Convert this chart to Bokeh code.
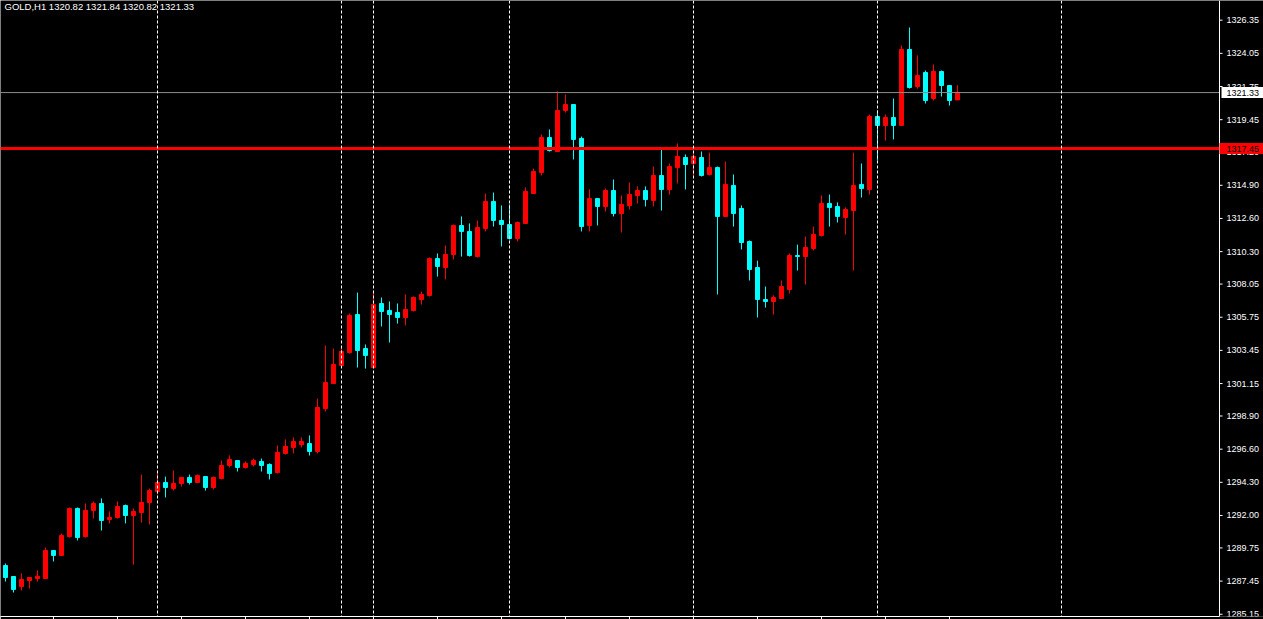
from bokeh.plotting import figure
from bokeh.models import Range1d, FixedTicker, Span, Label, ColumnDataSource
from bokeh.core.properties import value
from bokeh.embed import file_html
from bokeh.resources import INLINE

symbol = "GOLD,H1"

opens = [1288.53, 1287.77, 1287.08, 1287.49, 1287.63, 1287.63, 1289.57, 1289.23, 1290.54, 1292.49,
         1290.54, 1292.35, 1292.83, 1291.72, 1291.86, 1292.69, 1292.00, 1292.21, 1292.90, 1293.66,
         1294.29, 1293.87, 1294.22, 1294.64, 1294.29, 1294.70, 1293.94, 1294.57, 1295.47, 1295.81,
         1295.33, 1295.54, 1295.75, 1295.54, 1294.98, 1296.30, 1296.72, 1296.92, 1296.99, 1296.44,
         1299.42, 1301.15, 1302.40, 1303.30, 1305.94, 1303.58, 1302.26, 1306.70, 1306.22, 1306.08,
         1305.73, 1306.22, 1306.98, 1307.26, 1309.82, 1309.20, 1310.10, 1312.11, 1311.70, 1309.96,
         1311.90, 1313.78, 1312.46, 1312.18, 1311.21, 1312.25, 1314.33, 1315.79, 1318.21, 1317.24,
         1320.09, 1320.50, 1318.15, 1312.11, 1313.98, 1313.43, 1314.54, 1312.94, 1313.50, 1314.19,
         1314.54, 1313.85, 1315.58, 1314.61, 1316.13, 1316.83, 1316.41, 1316.83, 1315.65, 1316.13,
         1312.74, 1314.89, 1313.29, 1311.00, 1309.20, 1306.98, 1306.84, 1307.05, 1307.67, 1310.03,
         1309.96, 1310.52, 1311.42, 1313.64, 1313.43, 1312.67, 1313.15, 1314.96, 1314.61, 1319.67,
         1319.05, 1319.60, 1319.05, 1324.32, 1321.75, 1322.72, 1320.92, 1322.79, 1321.82, 1320.82]
highs = [1288.67, 1287.77, 1287.98, 1287.70, 1288.19, 1289.78, 1289.57, 1290.75, 1292.55, 1292.55,
         1292.83, 1292.97, 1293.18, 1292.28, 1292.97, 1292.76, 1292.49, 1294.84, 1293.87, 1294.98,
         1294.70, 1295.12, 1294.64, 1294.84, 1294.84, 1294.70, 1294.70, 1295.81, 1296.16, 1295.81,
         1295.75, 1295.95, 1295.95, 1295.61, 1296.85, 1297.27, 1297.41, 1297.41, 1297.55, 1300.11,
         1303.79, 1303.58, 1303.65, 1306.01, 1307.46, 1303.86, 1307.60, 1307.12, 1306.84, 1306.70,
         1307.33, 1307.19, 1307.53, 1309.89, 1310.17, 1310.72, 1312.18, 1312.74, 1312.25, 1312.46,
         1314.33, 1314.40, 1313.50, 1313.57, 1312.39, 1314.75, 1316.06, 1318.42, 1318.77, 1321.40,
         1321.20, 1320.50, 1318.28, 1314.61, 1313.98, 1314.68, 1315.30, 1314.19, 1315.09, 1314.82,
         1314.82, 1316.20, 1317.38, 1316.41, 1317.80, 1317.04, 1317.24, 1317.24, 1317.17, 1316.20,
         1316.55, 1315.65, 1313.50, 1311.07, 1309.68, 1307.88, 1307.26, 1308.30, 1310.17, 1310.79,
         1311.35, 1312.04, 1314.19, 1314.26, 1313.71, 1313.36, 1317.17, 1316.41, 1319.81, 1320.09,
         1319.81, 1320.92, 1324.59, 1325.84, 1323.90, 1322.86, 1323.28, 1322.86, 1321.82, 1321.84]
lows = [1287.42, 1286.66, 1286.80, 1286.94, 1287.42, 1287.63, 1288.81, 1289.23, 1290.47, 1290.27,
        1290.47, 1291.79, 1290.96, 1291.45, 1291.79, 1291.45, 1288.60, 1291.51, 1291.38, 1293.46,
        1293.25, 1293.73, 1294.01, 1294.15, 1294.29, 1293.73, 1293.80, 1294.50, 1295.33, 1295.05,
        1295.26, 1295.40, 1295.05, 1294.50, 1294.91, 1296.23, 1296.30, 1296.72, 1296.16, 1296.30,
        1299.21, 1301.15, 1302.40, 1303.23, 1302.26, 1302.19, 1302.26, 1305.11, 1304.00, 1305.31,
        1305.18, 1306.15, 1306.63, 1307.19, 1308.57, 1308.37, 1309.75, 1309.96, 1309.96, 1309.89,
        1311.70, 1312.04, 1310.66, 1311.14, 1311.00, 1312.25, 1314.33, 1315.58, 1317.24, 1317.24,
        1319.95, 1316.69, 1311.70, 1311.70, 1312.11, 1313.08, 1312.74, 1311.63, 1313.22, 1313.64,
        1313.43, 1313.43, 1313.15, 1314.26, 1315.02, 1314.61, 1315.58, 1315.51, 1315.58, 1307.33,
        1312.74, 1312.04, 1310.45, 1308.30, 1305.73, 1306.42, 1305.94, 1307.05, 1307.40, 1308.99,
        1308.02, 1310.38, 1311.35, 1312.04, 1312.32, 1311.49, 1308.99, 1314.05, 1314.26, 1316.62,
        1318.01, 1318.08, 1319.05, 1321.61, 1321.61, 1320.57, 1320.78, 1321.06, 1320.43, 1320.82]
closes = [1287.70, 1286.87, 1287.56, 1287.70, 1287.79, 1289.57, 1289.23, 1290.61, 1292.49, 1290.47,
          1292.35, 1292.83, 1291.65, 1291.86, 1292.62, 1292.00, 1292.28, 1292.90, 1293.73, 1294.29,
          1293.94, 1294.22, 1294.64, 1294.29, 1294.77, 1293.94, 1294.64, 1295.47, 1295.88, 1295.33,
          1295.61, 1295.81, 1295.47, 1294.91, 1296.37, 1296.79, 1297.13, 1297.13, 1296.44, 1299.49,
          1301.22, 1302.47, 1303.37, 1305.87, 1303.44, 1303.10, 1306.63, 1306.15, 1305.94, 1305.73,
          1306.29, 1307.12, 1307.33, 1309.82, 1309.27, 1310.10, 1312.11, 1311.70, 1310.03, 1311.97,
          1313.78, 1312.46, 1312.18, 1311.21, 1312.32, 1314.47, 1315.86, 1318.21, 1317.31, 1320.09,
          1320.50, 1318.08, 1312.04, 1313.98, 1313.43, 1314.54, 1312.94, 1313.57, 1314.26, 1314.54,
          1313.91, 1315.58, 1314.61, 1316.20, 1316.90, 1316.34, 1316.90, 1315.58, 1316.13, 1312.74,
          1314.96, 1312.94, 1310.93, 1309.06, 1306.98, 1306.84, 1307.12, 1307.88, 1310.03, 1309.96,
          1310.59, 1311.49, 1313.64, 1313.36, 1312.74, 1313.22, 1314.89, 1314.68, 1319.67, 1319.05,
          1319.60, 1319.05, 1324.32, 1321.68, 1322.51, 1320.78, 1322.79, 1321.82, 1320.78, 1321.33]

price_ticks = [1326.35, 1324.05, 1321.75, 1319.45, 1317.20, 1314.90, 1312.60, 1310.30, 1308.05,
               1305.75, 1303.45, 1301.15, 1298.90, 1296.60, 1294.30, 1292.00, 1289.75, 1287.45, 1285.15]
time_ticks = [6, 14, 22, 30, 38, 46, 54, 62, 70, 78, 86, 94, 102, 110, 118]
separators = [19, 42, 46, 63, 86, 109, 132]
level_price = 1317.45

# ---- layout / style ----
W, H = 1263, 619
SCALE_X, FRAME_B = 1219, 616          # price-scale line (px) and frame bottom (px)
BAR_PX, FIRST_PX = 8.0, 5.0
Y_TOP, Y_BOTTOM = 1327.715, 1284.995
BULL, BEAR = "#ff0000", "#00ffff"
FONT = "Liberation Sans"
FS = "9px"

n = len(opens)
idx = list(range(n))
cols = [BULL if c >= o else BEAR for o, c in zip(opens, closes)]
src = ColumnDataSource(dict(
    x=idx, o=opens, h=highs, l=lows, c=closes,
    top=[max(o, c) for o, c in zip(opens, closes)],
    bot=[min(o, c) for o, c in zip(opens, closes)],
    col=cols,
))

x_start = -FIRST_PX / BAR_PX
x_end = x_start + W / BAR_PX
x_scale = x_start + SCALE_X / BAR_PX    # data x of the price-scale line

p = figure(width=W, height=H, output_backend="svg", toolbar_location=None,
           x_range=Range1d(x_start, x_end), y_range=Range1d(Y_BOTTOM, Y_TOP),
           y_axis_location=None, title=None,
           background_fill_color="black", border_fill_color="black",
           min_border_left=0, min_border_top=0, min_border_right=0,
           min_border_bottom=H - FRAME_B)
p.outline_line_color = None
p.xgrid.visible = False
p.ygrid.visible = False

# bottom time axis (labels fall outside the window in the original)
xa = p.xaxis[0]
xa.ticker = FixedTicker(ticks=time_ticks)
xa.bounds = (x_start, x_scale)
xa.axis_line_color = "white"
xa.major_tick_line_color = "white"
xa.major_tick_in = 0
xa.major_tick_out = 3
xa.minor_tick_line_color = None
xa.major_label_standoff = 0
xa.major_label_text_font_size = "0px"
xa.major_label_text_color = None

# period separators
for s in separators:
    p.add_layout(Span(location=s, dimension="height", line_color="white",
                      line_dash="3 2", line_width=1))

# candles
p.segment(x0="x", y0="l", x1="x", y1="h", source=src, line_color="col", line_width=1)
p.vbar(x="x", width=4.0 / BAR_PX, top="top", bottom="bot", source=src,
       fill_color="col", line_color="col", line_width=1)

# bid line and level line (stop at the price scale)
p.segment(x0=[x_start], y0=[closes[-1]], x1=[x_scale], y1=[closes[-1]],
          line_color="#8c8c8c", line_width=1)
p.segment(x0=[x_start], y0=[level_price], x1=[x_scale], y1=[level_price],
          line_color="#ff0000", line_width=3)

# price scale: line, ticks, labels
nt = len(price_ticks)
p.segment(x0=[x_scale], y0=[Y_BOTTOM], x1=[x_scale], y1=[Y_TOP],
          line_color="white", line_width=1)
p.segment(x0=[x_scale] * nt, y0=price_ticks, x1=[x_scale + 3 / BAR_PX] * nt, y1=price_ticks,
          line_color="white", line_width=1)
p.text(x=[x_scale + 7 / BAR_PX] * nt, y=price_ticks, text=[f"{t:.2f}" for t in price_ticks],
       text_font=value(FONT), text_font_size=FS, text_color="white",
       text_baseline="middle", text_align="left")

# price boxes on the scale
p.rect(x=[x_scale + 23 / BAR_PX], y=[closes[-1]], width=42, height=11,
       width_units="screen", height_units="screen",
       fill_color="white", line_color=None)
p.rect(x=[x_scale + 22 / BAR_PX], y=[level_price], width=44, height=11,
       width_units="screen", height_units="screen",
       fill_color="#ff0000", line_color=None)
p.text(x=[x_scale + 7 / BAR_PX] * 2, y=[closes[-1], level_price],
       text=[f"{closes[-1]:.2f}", f"{level_price:.2f}"],
       text_font=value(FONT), text_font_size=FS, text_color="black",
       text_baseline="middle", text_align="left")

# header
header = f"{symbol}  {opens[-1]:.2f} {highs[-1]:.2f} {lows[-1]:.2f} {closes[-1]:.2f}"
p.add_layout(Label(x=x_start, y=Y_TOP, x_offset=4, y_offset=0, text=header,
                   text_baseline="top", text_align="left",
                   text_font=FONT, text_font_size="9.5px", text_color="white"))

open("out.html", "w").write(file_html(p, INLINE))
